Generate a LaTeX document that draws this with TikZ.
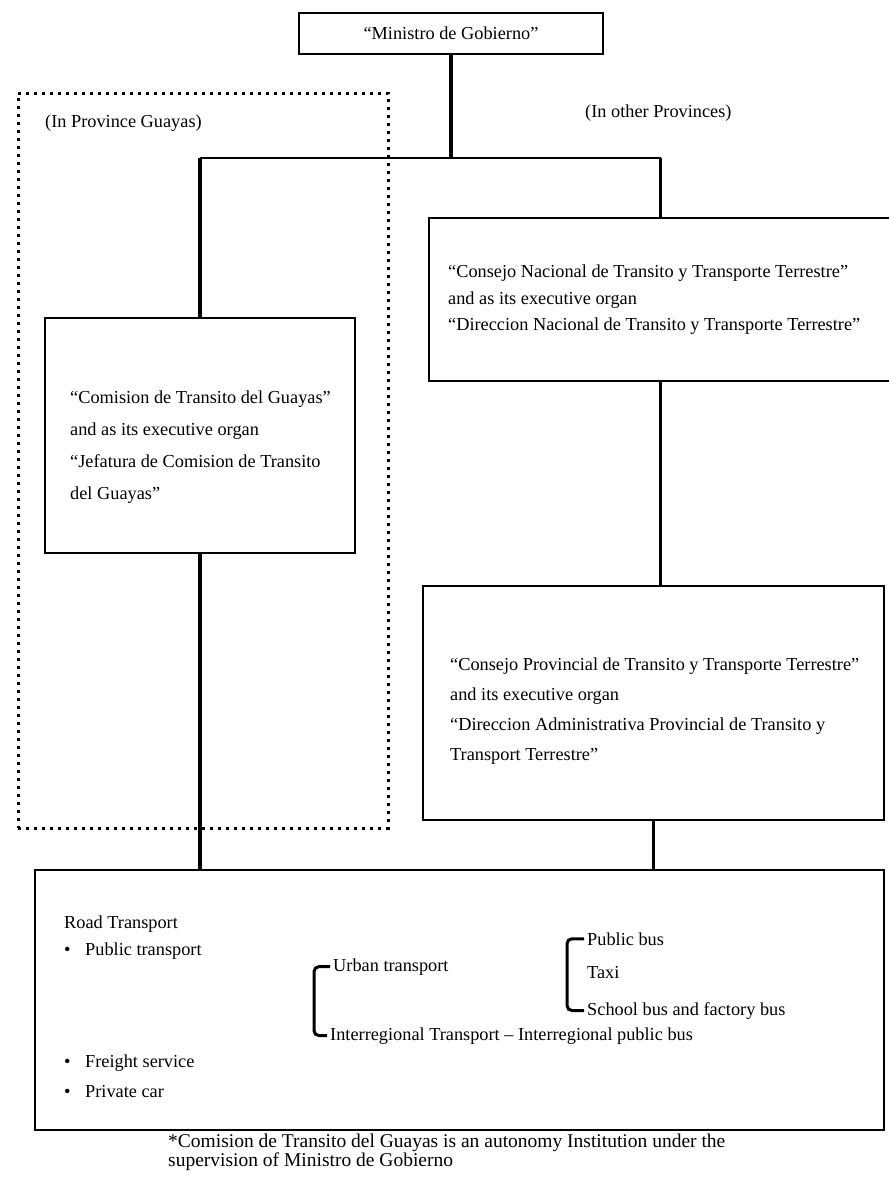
\documentclass[tikz,border=0pt]{standalone}
\usepackage{fontspec}
\setmainfont{Liberation Serif}
\newcommand\fsa{\fontsize{18.3}{30}\selectfont}
\newcommand\fsb{\fontsize{18.3}{26.5}\selectfont}
\newcommand\fsc{\fontsize{18.3}{32}\selectfont}
\newcommand\fsn{\fontsize{19.5}{19}\selectfont}
\begin{document}
\begin{tikzpicture}[x=1pt,y=-1pt,
  box/.style={draw, line width=2.5pt, rectangle, inner sep=0pt},
  dotbox/.style={draw, line width=3pt, dash pattern=on 3pt off 5pt, rectangle, inner sep=0pt},
  conn/.style={line width=3.8pt},
  hconn/.style={line width=2pt},
  brk/.style={line width=3pt, rounded corners=5pt},
  txt/.style={inner sep=0pt, anchor=base west, font=\fsa},
  btxt/.style={inner xsep=3pt, inner ysep=0pt, anchor=base west, font=\fsa},
  para/.style={inner sep=0pt, anchor=north west, align=left}]
\useasboundingbox (0,0) rectangle (889,1184);
\fill[white] (0,0) rectangle (889,1184);

% top box
\node[box, minimum width=304pt, minimum height=41pt, font=\fsa] (top) at (451,33.5) {“Ministro de Gobierno”};

% dotted province area
\node[dotbox, minimum width=370pt, minimum height=735pt] (guayas) at (203,460.5) {};
\node[txt] (lprov) at (45,127) {(In Province Guayas)};
\node[txt] (oprov) at (585,117) {(In other Provinces)};

% left box
\node[box, minimum width=310pt, minimum height=235pt] (comision) at (200,435.5) {};
\node[para, font=\fsc] (comisiontxt) at (70,391)
 {“Comision de Transito del Guayas”\\and as its executive organ\\“Jefatura de Comision de Transito\\del Guayas”};

% right boxes
\node[box, minimum width=463pt, minimum height=163pt] (nacional) at (660.5,299.5) {};
\node[para, font=\fsb] (nacionaltxt) at (448,265)
 {“Consejo Nacional de Transito y Transporte Terrestre”\\and as its executive organ\\“Direccion Nacional de Transito y Transporte Terrestre”};

\node[box, minimum width=461pt, minimum height=234pt] (provincial) at (653.5,703) {};
\node[para, font=\fsa] (provincialtxt) at (450,658)
 {“Consejo Provincial de Transito y Transporte Terrestre”\\and its executive organ\\“Direccion Administrativa Provincial de Transito y\\Transport Terrestre”};

% bottom box
\node[box, minimum width=849pt, minimum height=260pt] (bottom) at (459.5,1000) {};

% connectors
\coordinate (junc) at (451,158);
\coordinate (jl) at (comision.north |- junc);
\coordinate (jr) at (nacional.north |- junc);
\draw[conn] (top.south) -- (junc);
\draw[hconn] (jl) -- (jr);
\draw[conn] (jl) -- (comision.north);
\draw[conn] (jr) -- (nacional.north);
\draw[conn] (comision.south) -- (comision.south |- bottom.north);
\draw[conn] (nacional.south) -- (nacional.south |- provincial.north);
\draw[conn] (provincial.south) -- (provincial.south |- bottom.north);

% bottom box contents
\node[txt] (road) at (64,928) {Road Transport};
\node[txt] (b1) at (64,955) {•};
\node[txt] (pub) at (85,955) {Public transport};
\node[btxt] (urban) at (330,971) {Urban transport};
\node[btxt] (interreg) at (327,1040) {Interregional Transport – Interregional public bus};
\node[btxt] (pbus) at (584,945) {Public bus};
\node[btxt] (taxi) at (584,978) {Taxi};
\node[btxt] (school) at (584,1015) {School bus and factory bus};
\node[txt] (b2) at (64,1067) {•};
\node[txt] (freight) at (85,1067) {Freight service};
\node[txt] (b3) at (64,1097) {•};
\node[txt] (priv) at (85,1097) {Private car};

\coordinate (bx1) at (314,0);
\coordinate (bx2) at (567,0);
\draw[brk] (urban.west) -- (urban.west -| bx1) -- (interreg.west -| bx1) -- (interreg.west);
\draw[brk] (pbus.west) -- (pbus.west -| bx2) -- (school.west -| bx2) -- (school.west);

% footnote
\node[para, font=\fsn] (note) at (168,1134)
 {*Comision de Transito del Guayas is an autonomy Institution under the\\supervision of Ministro de Gobierno};
\end{tikzpicture}
\end{document}
